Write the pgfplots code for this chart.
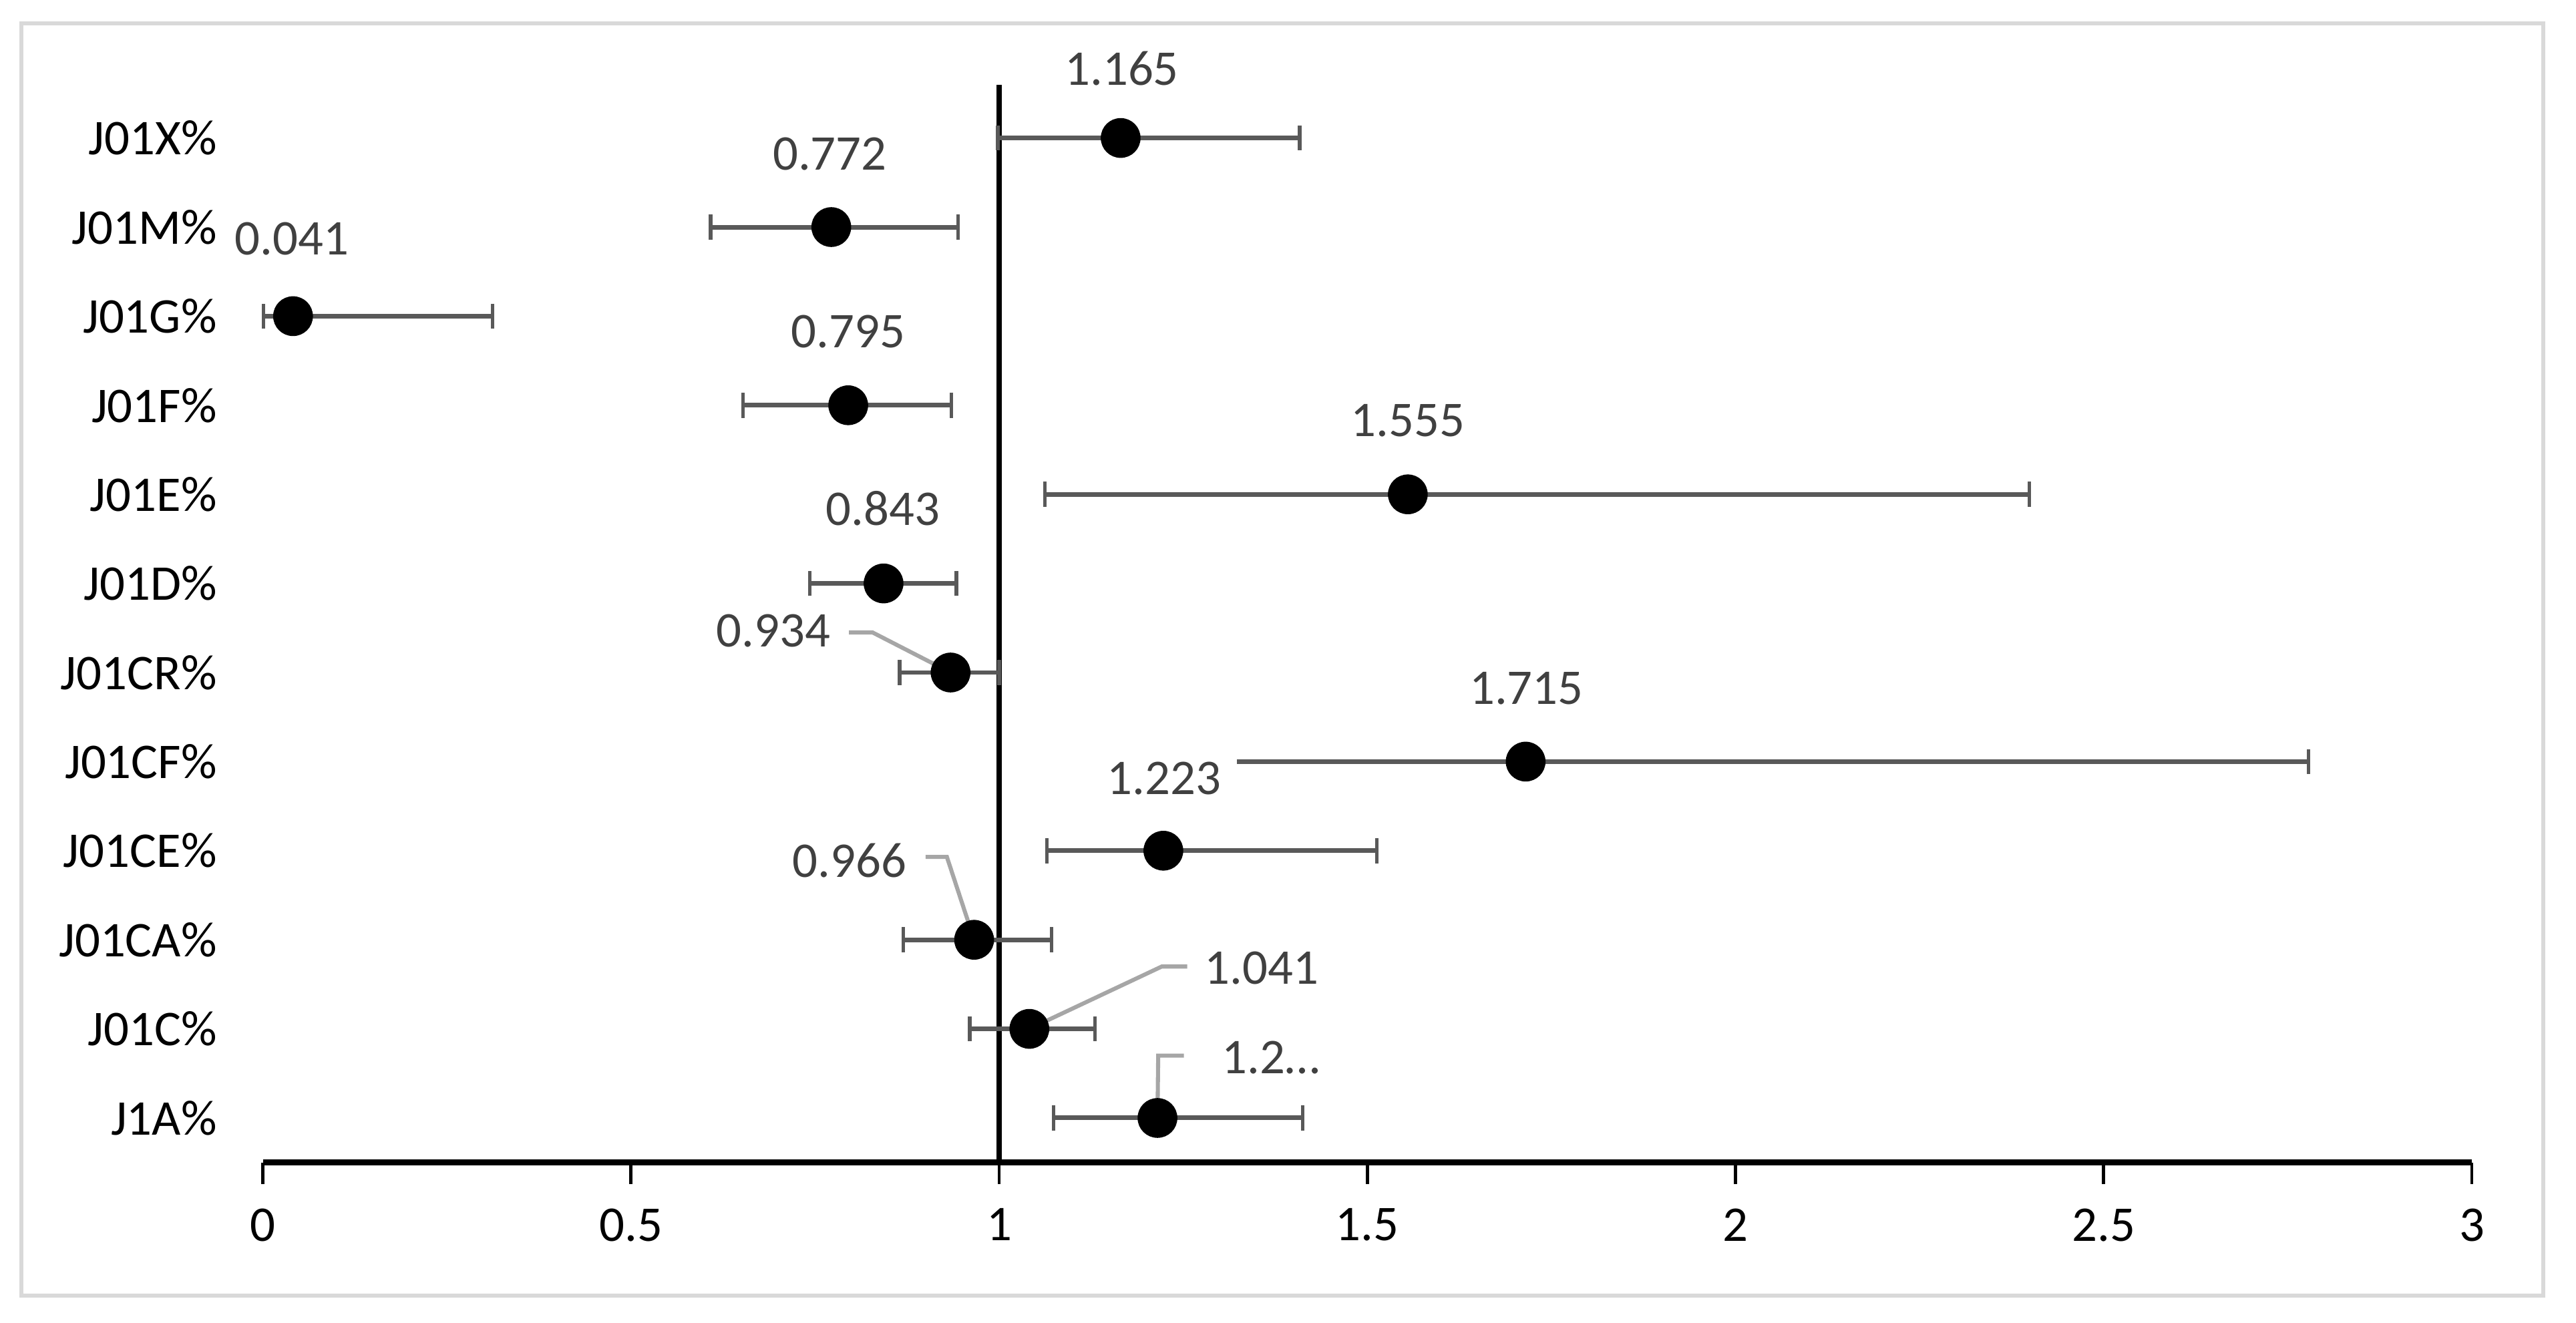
\documentclass[border=0pt]{standalone}
\usepackage{pgfplots}
\pgfplotsset{compat=1.18}
\usepackage{pgfplotstable}
\usepackage{fontspec}
\setmainfont{Carlito}

\definecolor{errgray}{HTML}{595959}
\definecolor{lblgray}{HTML}{404040}
\definecolor{leadgray}{HTML}{A6A6A6}
\definecolor{framegray}{HTML}{D9D9D9}

% odds ratio with lower / upper bound, rows bottom (1) to top (12)
\pgfplotstableread{
y  x     lo     hi
12 1.165 0.998  1.408
11 0.772 0.608  0.944
10 0.041 0.001  0.312
9  0.795 0.652  0.935
8  1.555 1.062  2.399
7  0.843 0.743  0.942
6  0.934 0.865  1.000
5  1.715 1.323  2.778
4  1.223 1.065  1.513
3  0.966 0.870  1.071
2  1.041 0.960  1.130
1  1.215 1.074  1.412
}\ordata

\begin{document}
\begin{tikzpicture}[font=\fontsize{12.3}{14}\selectfont,
  lbl/.style={text=lblgray, inner sep=0pt, anchor=center},
  leader/.style={leadgray, line width=1pt}]
\begin{axis}[
    name=ax,
    scale only axis,
    width=19.118cm, height=9.253cm,
    xmin=0, xmax=3, ymin=0.5, ymax=12.5,
    clip=false,
    axis x line*=bottom, axis y line*=left,
    y axis line style={draw=none},
    x axis line style={line width=1.5pt, -},
    tick align=outside,
    major tick length=0.185cm,
    xtick={0,0.5,1,1.5,2,2.5,3},
    x tick style={black, line width=0.8pt},
    ytick={1,...,12},
    yticklabels={J1A\%, J01C\%, J01CA\%, J01CE\%, J01CF\%, J01CR\%, J01D\%, J01E\%, J01F\%, J01G\%, J01M\%, J01X\%},
    y tick style={draw=none},
    /pgf/number format/assume math mode=true,
    xticklabel style={yshift=-0.09cm},
    yticklabel style={xshift=-0.09cm},
]
% reference line at 1
\draw[black, line width=1.25pt] (axis cs:1,0.5) -- (axis cs:1,12.6);

% upper bounds
\addplot[only marks, mark=none,
    error bars/.cd, x dir=plus, x explicit,
    error bar style={draw=errgray, line width=1.15pt},
    error mark options={errgray, rotate=90, line width=0.9pt, mark size=3.1pt}]
    table[x=x, y=y, x error plus expr=\thisrow{hi}-\thisrow{x}] {\ordata};
% lower bounds (J01CF% has no cap)
\addplot[only marks, mark=none, skip coords between index={7}{8},
    error bars/.cd, x dir=minus, x explicit,
    error bar style={draw=errgray, line width=1.15pt},
    error mark options={errgray, rotate=90, line width=0.9pt, mark size=3.1pt}]
    table[x=x, y=y, x error minus expr=\thisrow{x}-\thisrow{lo}] {\ordata};
\addplot[only marks, mark=none, skip coords between index={0}{7}, skip coords between index={8}{12},
    error bars/.cd, x dir=minus, x explicit, error mark=none,
    error bar style={draw=errgray, line width=1.15pt}]
    table[x=x, y=y, x error minus expr=\thisrow{x}-\thisrow{lo}] {\ordata};

% points
\addplot[only marks, mark=*, mark size=4.7pt, black] table[x=x, y=y] {\ordata};

% data labels
\node[lbl] at (axis cs:1.1665,12.78) {1.165};
\node[lbl] at (axis cs:0.770,11.82) {0.772};
\node[lbl] at (axis cs:0.0395,10.87) {0.041};
\node[lbl] at (axis cs:0.795,9.83) {0.795};
\node[lbl] at (axis cs:1.555,8.83) {1.555};
\node[lbl] at (axis cs:0.842,7.84) {0.843};
\node[lbl] at (axis cs:0.6934,6.465) {0.934};
\node[lbl] at (axis cs:1.716,5.82) {1.715};
\node[lbl] at (axis cs:1.2239,4.815) {1.223};
\node[lbl] at (axis cs:0.797,3.89) {0.966};
\node[lbl] at (axis cs:1.3565,2.68) {1.041};
\node[lbl] at (axis cs:1.369,1.68) {1.2…};

% leader lines
\draw[leader] (axis cs:0.796,6.45) -- (axis cs:0.828,6.45) -- (axis cs:0.934,6);
\draw[leader] (axis cs:0.900,3.93) -- (axis cs:0.929,3.93) -- (axis cs:0.966,3);
\draw[leader] (axis cs:1.041,2) -- (axis cs:1.2209,2.70) -- (axis cs:1.2553,2.70);
\draw[leader] (axis cs:1.215,1) -- (axis cs:1.216,1.70) -- (axis cs:1.2508,1.70);
\end{axis}

% chart frame and page size
\draw[framegray, line width=1pt]
  ([shift={(-2.090cm,-1.152cm)}]ax.south west) rectangle ([shift={(0.618cm,0.607cm)}]ax.north east);
\path ([shift={(-2.275cm,-1.389cm)}]ax.south west) rectangle ([shift={(0.902cm,0.809cm)}]ax.north east);
\end{tikzpicture}
\end{document}
